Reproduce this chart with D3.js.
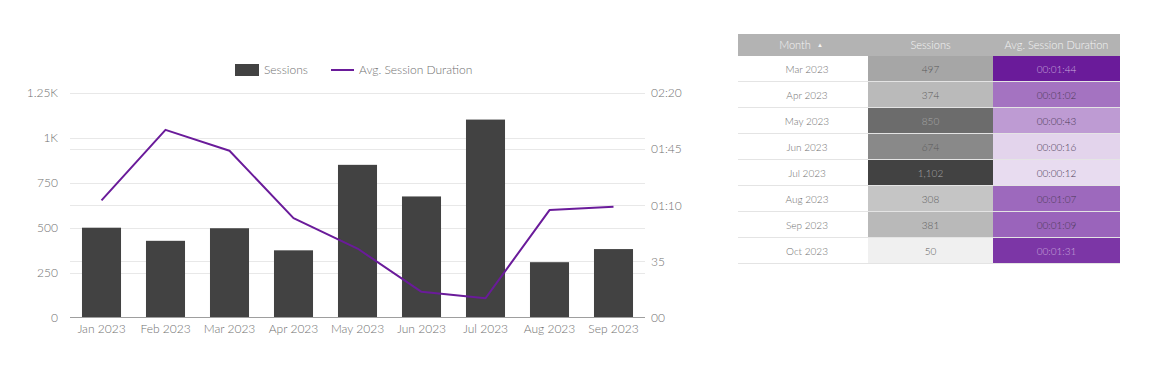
<!DOCTYPE html>
<html><head><meta charset="utf-8">
<script src="https://cdn.jsdelivr.net/npm/d3@7"></script>
<style>
body{margin:0;background:#fff;font-family:Lato,"Noto Sans",sans-serif;}
svg text{font-family:Lato,"Noto Sans",sans-serif;font-weight:300;}
</style></head>
<body>
<svg id="c" width="1156" height="382"></svg>
<script>
// Chart data
const months = ["Jan 2023","Feb 2023","Mar 2023","Apr 2023","May 2023","Jun 2023","Jul 2023","Aug 2023","Sep 2023"];
const sessions = [500, 427, 497, 374, 850, 674, 1102, 308, 381];
const avgDuration = [73, 117, 104, 62, 43, 16, 12, 67, 69]; // seconds
const leftTicks = [0, 250, 500, 750, 1000, 1250];
const rightTicks = [0, 35, 70, 105, 140];

// Table data
const tableMonths = ["Mar 2023","Apr 2023","May 2023","Jun 2023","Jul 2023","Aug 2023","Sep 2023","Oct 2023"];
const tableSessions = [497, 374, 850, 674, 1102, 308, 381, 50];
const tableDurations = [104, 62, 43, 16, 12, 67, 69, 91];
const tableHeaders = ["Month", "Sessions", "Avg. Session Duration"];

const svg = d3.select("#c");
const textCol = "#707070";
const purple = "#6a1b9a";
const barCol = "#424242";

const x = d3.scaleBand().domain(months).range([69.5, 645.5]).paddingInner(0.39).paddingOuter(0.195);
const yL = d3.scaleLinear().domain([0, 1250]).range([317.5, 93]);
const yR = d3.scaleLinear().domain([0, 140]).range([317.5, 93]);

const fmtL = v => v === 0 ? "0" : (v >= 1000 ? (v/1000) + "K" : String(v));
const fmtR = s => {
  if (s === 0) return "00";
  if (s < 60) return String(s);
  const m = Math.floor(s/60), ss = s % 60;
  return String(m).padStart(2,"0") + ":" + String(ss).padStart(2,"0");
};

// gridlines
const grid = svg.append("g");
leftTicks.filter(t => t > 0).forEach(t => {
  grid.append("line").attr("x1", 70).attr("x2", 645).attr("y1", Math.round(yL(t))+0.5).attr("y2", Math.round(yL(t))+0.5)
    .attr("stroke", "#e8e8e8").attr("stroke-width", 1);
});
rightTicks.filter(t => t > 0).forEach(t => {
  grid.append("line").attr("x1", 70).attr("x2", 645).attr("y1", Math.round(yR(t))+0.5).attr("y2", Math.round(yR(t))+0.5)
    .attr("stroke", "#e8e8e8").attr("stroke-width", 1);
});

// bars
svg.append("g").selectAll("rect").data(sessions).join("rect")
  .attr("x", (d,i) => x(months[i]))
  .attr("width", x.bandwidth())
  .attr("y", d => yL(d))
  .attr("height", d => yL(0) - yL(d))
  .attr("fill", barCol);

// baseline
svg.append("line").attr("x1", 70).attr("x2", 645).attr("y1", 317.5).attr("y2", 317.5).attr("stroke", "#9e9e9e");

// line
const line = d3.line().x((d,i) => x(months[i]) + x.bandwidth()/2).y(d => yR(d));
svg.append("path").datum(avgDuration).attr("d", line).attr("fill", "none")
  .attr("stroke", purple).attr("stroke-width", 2).attr("stroke-linejoin", "round");

// left axis
const axL = svg.append("g").attr("transform", "translate(58,0)")
  .call(d3.axisLeft(yL).tickValues(leftTicks).tickFormat(fmtL).tickSize(0).tickPadding(0));
axL.select(".domain").remove();
axL.selectAll("text").attr("fill", textCol).attr("font-size", 12);

// right axis
const axR = svg.append("g").attr("transform", "translate(651,0)")
  .call(d3.axisRight(yR).tickValues(rightTicks).tickFormat(fmtR).tickSize(0).tickPadding(0));
axR.select(".domain").remove();
axR.selectAll("text").attr("fill", textCol).attr("font-size", 12);

// x axis
const axX = svg.append("g").attr("transform", "translate(0,324)")
  .call(d3.axisBottom(x).tickSize(0).tickPadding(0));
axX.select(".domain").remove();
axX.selectAll("text").attr("fill", textCol).attr("font-size", 12).attr("dy", "0.75em");

// legend
const lg = svg.append("g");
lg.append("rect").attr("x", 235).attr("y", 64).attr("width", 24).attr("height", 12).attr("fill", barCol);
lg.append("text").attr("x", 264).attr("y", 70).attr("dy", "0.35em").attr("fill", textCol).attr("font-size", 12).text("Sessions");
lg.append("line").attr("x1", 331).attr("x2", 354).attr("y1", 70).attr("y2", 70).attr("stroke", purple).attr("stroke-width", 2);
lg.append("text").attr("x", 359).attr("y", 70).attr("dy", "0.35em").attr("fill", textCol).attr("font-size", 12).text("Avg. Session Duration");

// table
const tx = [738, 868, 993, 1120];
const headerY = 34, headerH = 22, rowH = 26;
const tg = svg.append("g");
tg.append("rect").attr("x", tx[0]).attr("y", headerY).attr("width", tx[3]-tx[0]).attr("height", headerH).attr("fill", "#b3b3b3");
tableHeaders.forEach((h, i) => {
  const cx = (tx[i] + tx[i+1]) / 2 + (i === 0 ? -8 : 0);
  tg.append("text").attr("x", cx).attr("y", headerY + headerH/2).attr("dy", "0.35em")
    .attr("text-anchor", "middle").attr("fill", "#f4f4f4").attr("font-size", 11).text(h);
});
tg.append("text").attr("x", 820).attr("y", headerY + headerH/2).attr("dy", "0.35em")
  .attr("text-anchor", "middle").attr("fill", "#f4f4f4").attr("font-size", 6).text("▲");

const sScale = d3.scaleLinear().domain(d3.extent(tableSessions)).range(["#f0f0f0", "#424242"]);
const dScale = d3.scaleLinear().domain(d3.extent(tableDurations)).range(["#e8dcf0", "#6a1b9a"]);
const fmtD = s => "00:" + String(Math.floor(s/60)).padStart(2,"0") + ":" + String(s%60).padStart(2,"0");
const fmtN = d3.format(",");
const lum = c => { const r = d3.rgb(c); return 0.299*r.r + 0.587*r.g + 0.114*r.b; };

tableMonths.forEach((m, i) => {
  const y0 = headerY + headerH + i * rowH;
  const sc = sScale(tableSessions[i]), dc = dScale(tableDurations[i]);
  tg.append("rect").attr("x", tx[1]).attr("y", y0).attr("width", tx[2]-tx[1]).attr("height", rowH).attr("fill", sc);
  tg.append("rect").attr("x", tx[2]).attr("y", y0).attr("width", tx[3]-tx[2]).attr("height", rowH).attr("fill", dc);
  tg.append("line").attr("x1", tx[0]).attr("x2", tx[3]).attr("y1", y0 + rowH - 0.5).attr("y2", y0 + rowH - 0.5)
    .attr("stroke", "#e4e4e4").attr("stroke-width", 1);
  tg.append("text").attr("x", (tx[0]+tx[1])/2 + 4).attr("y", y0 + rowH/2).attr("dy", "0.35em")
    .attr("text-anchor", "middle").attr("fill", textCol).attr("font-size", 10).text(m);
  tg.append("text").attr("x", (tx[1]+tx[2])/2).attr("y", y0 + rowH/2).attr("dy", "0.35em")
    .attr("text-anchor", "middle").attr("fill", lum(sc) < 110 ? "#a8a8a8" : "#5a5a5a").attr("font-size", 10).text(fmtN(tableSessions[i]));
  tg.append("text").attr("x", (tx[2]+tx[3])/2).attr("y", y0 + rowH/2).attr("dy", "0.35em")
    .attr("text-anchor", "middle").attr("fill", lum(dc) < 100 ? "#c9a9dc" : "#4a3a55").attr("font-size", 10).text(fmtD(tableDurations[i]));
});
</script>
</body></html>
